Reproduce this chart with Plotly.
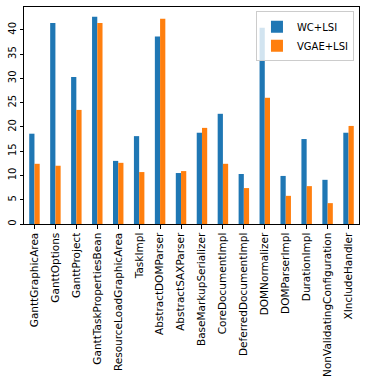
import plotly.graph_objects as go

# 类别与两组数值
classes = [
    "GanttGraphicArea", "GanttOptions", "GanttProject", "GanttTaskPropertiesBean",
    "ResourceLoadGraphicArea", "TaskImpl", "AbstractDOMParser", "AbstractSAXParser",
    "BaseMarkupSerializer", "CoreDocumentImpl", "DeferredDocumentImpl", "DOMNormalizer",
    "DOMParserImpl", "DurationImpl", "NonValidatingConfiguration", "XIncludeHandler",
]
wc_lsi = [18.6, 41.4, 30.3, 42.7, 13.0, 18.1, 38.6, 10.5,
          18.8, 22.7, 10.3, 40.4, 9.9, 17.5, 9.1, 18.8]
vgae_lsi = [12.4, 12.0, 23.5, 41.4, 12.6, 10.7, 42.3, 10.9,
            19.8, 12.4, 7.4, 26.0, 5.8, 7.8, 4.3, 20.2]
y_ticks = [0, 5, 10, 15, 20, 25, 30, 35, 40]

fig = go.Figure()
fig.add_trace(go.Bar(x=classes, y=wc_lsi, name="WC+LSI", marker=dict(color="#1f77b4", line=dict(width=0))))
fig.add_trace(go.Bar(x=classes, y=vgae_lsi, name="VGAE+LSI", marker=dict(color="#ff7f0e", line=dict(width=0))))

axis_style = dict(
    showline=True, linecolor="black", linewidth=1, mirror=True,
    ticks="outside", ticklen=3.5, tickcolor="black", tickwidth=0.8,
    showgrid=False, zeroline=False, automargin=False,
)

fig.update_xaxes(type="category", range=[-0.5, 15.5], tickangle=-90,
                 tickfont=dict(family="DejaVu Sans", size=10.5, color="black"), **axis_style)
fig.update_yaxes(range=[0, 44.7], tickvals=y_ticks, tickangle=-90,
                 tickfont=dict(family="DejaVu Sans", size=10, color="black"), **axis_style)

fig.update_layout(
    width=366, height=376,
    margin=dict(l=24, r=7, t=7, b=152),
    barmode="group", bargap=0.5, bargroupgap=0,
    plot_bgcolor="white", paper_bgcolor="white",
    font=dict(family="DejaVu Sans", size=10, color="black"),
    legend=dict(
        x=0.985, y=0.98, xanchor="right", yanchor="top",
        bordercolor="#cccccc", borderwidth=1, bgcolor="rgba(255,255,255,0.8)",
        font=dict(size=10), itemwidth=30, tracegroupgap=0,
    ),
    showlegend=True,
)

# 去掉页面默认边距，让图贴齐窗口左上角
fig.write_html("out.html", config={"displayModeBar": False},
               post_script="document.body.style.margin='0';")
